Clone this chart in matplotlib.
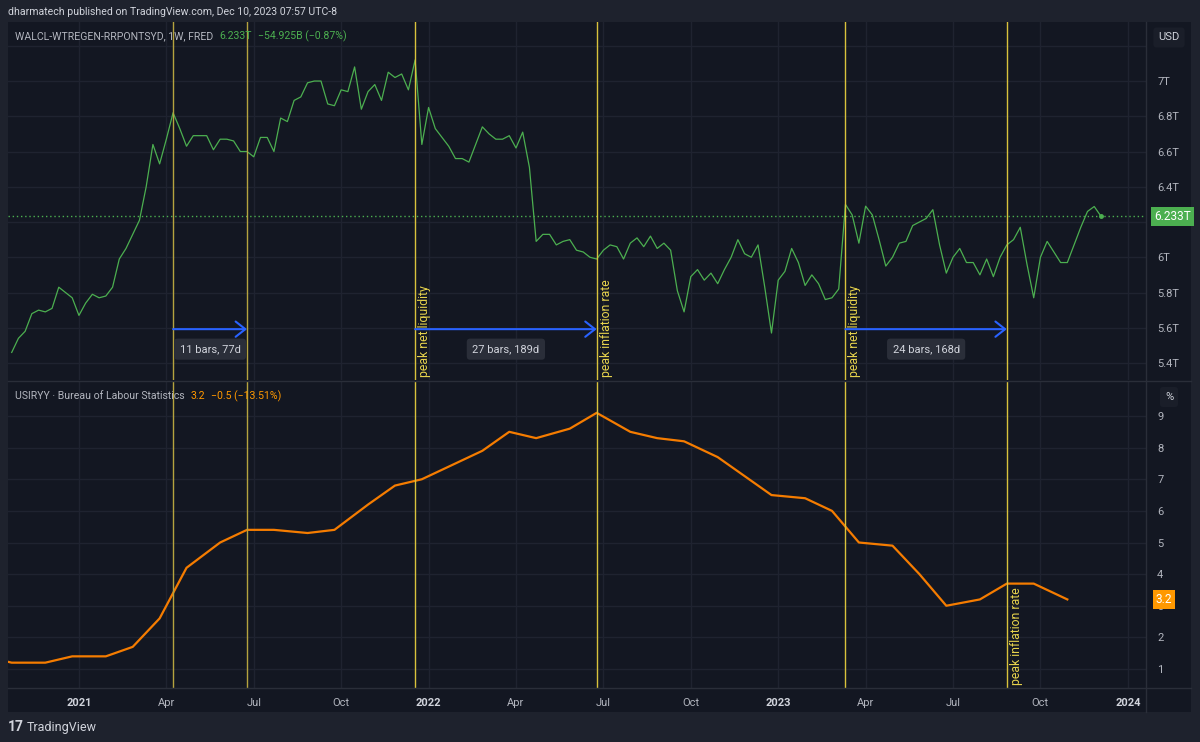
import matplotlib.pyplot as plt
from matplotlib.lines import Line2D
import numpy as np
import pandas as pd

plt.rcParams['font.family'] = ['Roboto', 'DejaVu Sans']

# net liquidity = WALCL - WTREGEN - RRPONTSYD, weekly, trillions USD
start = pd.Timestamp('2020-10-28')
liquidity = [
    5.46, 5.54, 5.58, 5.68, 5.70, 5.69, 5.71, 5.83, 5.80, 5.77,
    5.67, 5.74, 5.79, 5.77, 5.78, 5.83, 5.99, 6.05, 6.13, 6.21,
    6.40, 6.64, 6.53, 6.67, 6.82, 6.73, 6.63, 6.69, 6.69, 6.69,
    6.61, 6.67, 6.67, 6.66, 6.60, 6.60, 6.57, 6.68, 6.68, 6.60,
    6.79, 6.77, 6.89, 6.91, 6.99, 7.00, 7.00, 6.87, 6.86, 6.95,
    6.94, 7.08, 6.84, 6.94, 6.98, 6.89, 7.05, 7.02, 7.04, 6.95,
    7.12, 6.64, 6.85, 6.73, 6.68, 6.63, 6.56, 6.56, 6.54, 6.64,
    6.74, 6.70, 6.67, 6.67, 6.69, 6.62, 6.71, 6.51, 6.09, 6.13,
    6.13, 6.07, 6.09, 6.10, 6.04, 6.03, 6.00, 5.99, 6.04, 6.07,
    6.06, 5.99, 6.08, 6.11, 6.06, 6.12, 6.05, 6.08, 6.04, 5.81,
    5.69, 5.89, 5.93, 5.87, 5.91, 5.85, 5.93, 6.00, 6.10, 6.02,
    6.00, 6.07, 5.83, 5.57, 5.87, 5.92, 6.05, 5.97, 5.84, 5.90,
    5.85, 5.76, 5.77, 5.82, 6.30, 6.24, 6.08, 6.29, 6.24, 6.10,
    5.95, 6.00, 6.08, 6.09, 6.18, 6.20, 6.22, 6.27, 6.07, 5.91,
    6.00, 6.05, 5.97, 5.97, 5.90, 5.99, 5.89, 6.00, 6.07, 6.10,
    6.17, 5.96, 5.77, 6.00, 6.09, 6.03, 5.97, 5.97, 6.07, 6.17,
    6.26, 6.288, 6.233,
]

# US CPI YoY (%), monthly
cpi_months = pd.date_range('2020-09-01', '2023-10-01', freq='MS')
cpi = [1.4, 1.2, 1.2, 1.4,
       1.4, 1.7, 2.6, 4.2, 5.0, 5.4, 5.4, 5.3, 5.4, 6.2, 6.8, 7.0,
       7.5, 7.9, 8.5, 8.3, 8.6, 9.1, 8.5, 8.3, 8.2, 7.7, 7.1, 6.5,
       6.4, 6.0, 5.0, 4.9, 4.0, 3.0, 3.2, 3.7, 3.7, 3.2]

# vertical markers (weekly bars)
events = ['2021-04-14', '2021-06-30', '2021-12-22', '2022-06-29', '2023-03-15', '2023-08-30']
event_text = {2: 'peak net liquidity', 3: 'peak inflation rate', 4: 'peak net liquidity', 5: 'peak inflation rate'}
ranges = [(0, 1), (2, 3), (4, 5)]

tick_months = pd.date_range('2021-01-01', '2024-01-01', freq='QS')

BG = '#131722'
OUT = '#1e222d'
GRID = '#1f2330'
TXT = '#b2b5be'
GREEN = '#4caf50'
ORANGE = '#f57c00'
BLUE = '#2962ff'

W, H = 1200, 742


def fx(px):
    return px / W


def fy(py):
    return 1 - py / H


def bar_of(ts):
    return (pd.Timestamp(ts) - start).days / 7


x_liq = np.arange(len(liquidity))
# monthly value sits on the weekly bar holding the first day of the next month
x_cpi = []
for m in cpi_months:
    d = m + pd.offsets.MonthBegin(1)
    wed = d - pd.Timedelta(days=d.weekday()) + pd.Timedelta(days=2)
    x_cpi.append(bar_of(wed))
x_ev = [bar_of(e) for e in events]
x_ticks = [np.ceil(bar_of(m)) for m in tick_months]
tick_labels = [str(m.year) if m.month == 1 else m.strftime('%b') for m in tick_months]

fig = plt.figure(figsize=(W / 100, H / 100), dpi=100, facecolor=OUT)

bg = fig.add_axes([fx(8), fy(712), fx(1191 - 8), (712 - 22) / H])
bg.set_facecolor(BG)
bg.set_xticks([])
bg.set_yticks([])
for s in bg.spines.values():
    s.set_visible(False)

ax1 = fig.add_axes([fx(8), fy(380), fx(1146 - 8), (380 - 22) / H])
ax2 = fig.add_axes([fx(8), fy(688), fx(1146 - 8), (688 - 381) / H], sharex=ax1)

for ax in (ax1, ax2):
    ax.set_facecolor(BG)
    for s in ax.spines.values():
        s.set_visible(False)
    ax.grid(True, color=GRID, lw=1)
    ax.set_axisbelow(True)
    ax.yaxis.tick_right()
    ax.tick_params(axis='both', length=0, labelcolor=TXT, labelsize=8)
    ax.tick_params(axis='y', pad=8)

ax1.set_xlim(-0.55, 168.7)
ax1.set_ylim(5.3035, 7.335)
ax2.set_ylim(0.399, 10.107)

# top pane
yt = np.round(np.arange(5.4, 7.21, 0.2), 1)
ax1.set_yticks(yt)
ax1.set_yticklabels([f'{v:g}T' if v < 7.1 else '' for v in yt])
ax1.plot(x_liq, liquidity, color=GREEN, lw=0.9)
ax1.plot(x_liq[-1], liquidity[-1], 'o', ms=2.5, color=GREEN)
ax1.axhline(liquidity[-1], color=GREEN, lw=1, ls=(0, (1, 2)))
ax1.tick_params(labelbottom=False)

# bottom pane
ax2.set_yticks(range(1, 10))
ax2.plot(x_cpi, cpi, color=ORANGE, lw=1.6)
ax2.set_xticks(x_ticks)
ax2.set_xticklabels(tick_labels)
ax2.tick_params(axis='x', pad=7)
for lab in ax2.get_xticklabels():
    if lab.get_text().isdigit():
        lab.set_fontweight('bold')
        lab.set_color('#d1d4dc')

for i, xe in enumerate(x_ev):
    c = '#b5a33f' if i < 2 else '#d9c23c'
    ax1.axvline(xe, color=c, lw=1, zorder=3)
    ax2.axvline(xe, color=c, lw=1, zorder=3)
    if i in event_text:
        ax = ax2 if i == 5 else ax1
        ax.annotate(event_text[i], xy=(xe, 0), xycoords=('data', 'axes fraction'),
                    xytext=(3, 3), textcoords='offset pixels', rotation=90,
                    ha='left', va='bottom', color='#e8d44d', fontsize=8.8)

for a, b in ranges:
    ka, kb = x_ev[a], x_ev[b]
    ax1.annotate('', xy=(kb, 5.592), xytext=(ka, 5.592),
                 arrowprops=dict(arrowstyle='->,head_length=0.7,head_width=0.55', color=BLUE,
                                 lw=1.5, shrinkA=0, shrinkB=0, mutation_scale=10), zorder=4)
    nb = int(round(kb - ka))
    ax1.annotate(f'{nb} bars, {nb * 7}d', xy=((ka + kb) / 2, 5.592), xytext=(0, -20),
                 textcoords='offset pixels', ha='center', va='center', color='#d1d4dc', fontsize=8,
                 bbox=dict(boxstyle='round,pad=0.5,rounding_size=0.3', fc='#2a2e39', ec='none'), zorder=5)

# last value tags on the scales
ax1.annotate(f'{liquidity[-1]:.3f}T', xy=(1, liquidity[-1]), xycoords=('axes fraction', 'data'),
             xytext=(8, 0), textcoords='offset pixels', ha='left', va='center', color='white',
             fontsize=8.5, annotation_clip=False, zorder=10,
             bbox=dict(boxstyle='square,pad=0.25', fc=GREEN, ec='none'))
ax2.annotate(f'{cpi[-1]:g}', xy=(1, cpi[-1]), xycoords=('axes fraction', 'data'),
             xytext=(10, 0), textcoords='offset pixels', ha='left', va='center', color='white',
             fontsize=8.5, annotation_clip=False, zorder=10,
             bbox=dict(boxstyle='square,pad=0.25', fc='#ff9800', ec='none'))

# separators
sep = '#2a2e39'
fig.add_artist(Line2D([fx(8), fx(1191)], [fy(380.5), fy(380.5)], color=sep, lw=1))
fig.add_artist(Line2D([fx(8), fx(1191)], [fy(688), fy(688)], color=sep, lw=1))
fig.add_artist(Line2D([fx(1146), fx(1146)], [fy(22), fy(712)], color=sep, lw=1))

fig.text(fx(1169), fy(37.5), 'USD', ha='center', va='center', color='#d1d4dc', fontsize=8,
         bbox=dict(boxstyle='round,pad=0.45,rounding_size=0.3', fc='#1a1e29', ec='none'))
fig.text(fx(1169), fy(397), '%', ha='center', va='center', color='#d1d4dc', fontsize=8,
         bbox=dict(boxstyle='round,pad=0.45,rounding_size=0.3', fc='#1a1e29', ec='none'))

# header, legends and footer
fig.text(fx(8), fy(12), 'dharmatech published on TradingView.com, Dec 10, 2023 07:57 UTC-8',
         va='center', color='#d1d4dc', fontsize=7.6)

renderer = fig.canvas.get_renderer()


def chain(x0, y, parts):
    x = x0
    for s, c, gap in parts:
        t = fig.text(fx(x), fy(y), s, va='center', color=c, fontsize=7.6)
        x += t.get_window_extent(renderer).width + gap


chain(15, 36, [('WALCL-WTREGEN-RRPONTSYD, 1W, FRED', TXT, 6),
               (f'{liquidity[-1]:.3f}T', GREEN, 6),
               ('\u221254.925B (\u22120.87%)', GREEN, 0)])
chain(15, 396, [('USIRYY \u00b7 Bureau of Labour Statistics', TXT, 6),
                (f'{cpi[-1]:g}', '#ff9800', 6),
                ('\u22120.5 (\u221213.51%)', '#ff9800', 0)])

fig.text(fx(8), fy(727), '17', va='center', color='#d1d4dc', fontsize=10, fontweight='bold')
fig.text(fx(27), fy(727), 'TradingView', va='center', color='#d1d4dc', fontsize=9)

fig.savefig('out.png', dpi=100, facecolor=fig.get_facecolor())
